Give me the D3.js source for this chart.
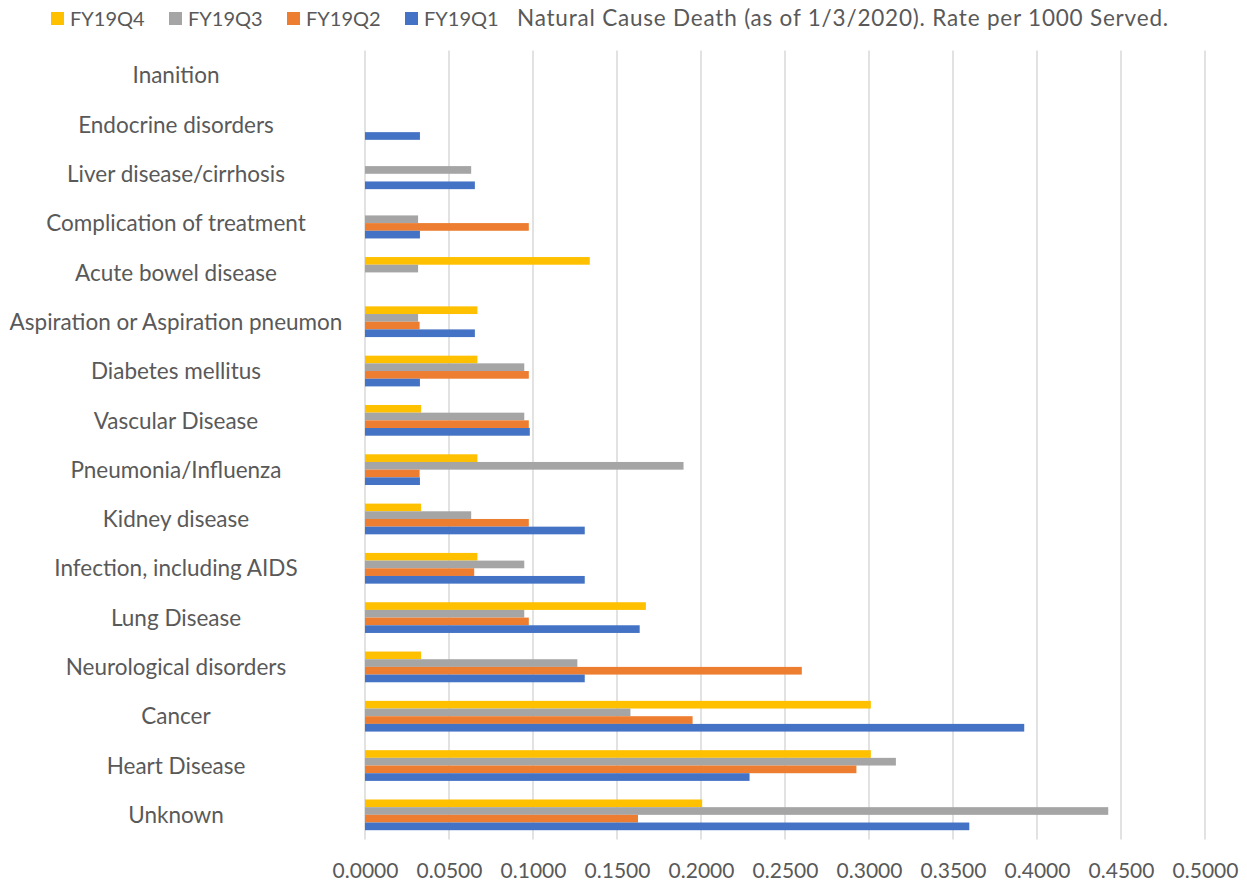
<!DOCTYPE html>
<html>
<head>
<meta charset="utf-8">
<script src="https://cdn.jsdelivr.net/npm/d3@7"></script>
<style>
  html, body { margin: 0; padding: 0; background: #ffffff; }
  svg { display: block; }
  text { font-family: Lato, "Open Sans", sans-serif; fill: #595959; }
</style>
</head>
<body>
<svg id="chart" width="1247" height="883"></svg>
<script>
// Causes of death, listed top to bottom
const categories = [
  "Inanition",
  "Endocrine disorders",
  "Liver disease/cirrhosis",
  "Complication of treatment",
  "Acute bowel disease",
  "Aspiration or Aspiration pneumon",
  "Diabetes mellitus",
  "Vascular Disease",
  "Pneumonia/Influenza",
  "Kidney disease",
  "Infection, including AIDS",
  "Lung Disease",
  "Neurological disorders",
  "Cancer",
  "Heart Disease",
  "Unknown"
];

// Quarters, in legend order (also top-to-bottom order inside each group)
const seriesNames = ["FY19Q4", "FY19Q3", "FY19Q2", "FY19Q1"];
const seriesColors = ["#FFC000", "#A5A5A5", "#ED7D31", "#4472C4"];

// Rate per 1000 served, same order as categories (0 = no deaths recorded)
const fy19q4 = [0, 0, 0, 0, 0.1338, 0.0669, 0.0669, 0.0334, 0.0669, 0.0334, 0.0669, 0.1672, 0.0334, 0.3011, 0.3011, 0.2007];
const fy19q3 = [0, 0, 0.0632, 0.0316, 0.0316, 0.0316, 0.0948, 0.0948, 0.1896, 0.0632, 0.0948, 0.0948, 0.1264, 0.1580, 0.3160, 0.4424];
const fy19q2 = [0, 0, 0, 0.0975, 0, 0.0325, 0.0975, 0.0975, 0.0325, 0.0975, 0.0650, 0.0975, 0.2600, 0.1950, 0.2925, 0.1625];
const fy19q1 = [0, 0.0327, 0.0654, 0.0327, 0, 0.0654, 0.0327, 0.0981, 0.0327, 0.1308, 0.1308, 0.1635, 0.1308, 0.3924, 0.2289, 0.3597];

const seriesValues = [fy19q4, fy19q3, fy19q2, fy19q1];

const tickValues = [0, 0.05, 0.1, 0.15, 0.2, 0.25, 0.3, 0.35, 0.4, 0.45, 0.5];
const title = "Natural Cause Death (as of 1/3/2020). Rate per 1000 Served.";

const svg = d3.select("#chart");

const plot = { left: 365, right: 1205, top: 50.5, bottom: 839.5 };

const x = d3.scaleLinear().domain([0, 0.5]).range([plot.left, plot.right]);
const y = d3.scaleBand().domain(categories).range([plot.top, plot.bottom])
  .paddingInner(0.377).paddingOuter(0.1885);
const ySub = d3.scaleBand().domain(seriesNames).range([0, y.bandwidth()]);

// Vertical gridlines
svg.append("g")
  .selectAll("line")
  .data(tickValues)
  .join("line")
  .attr("x1", d => x(d)).attr("x2", d => x(d))
  .attr("y1", plot.top).attr("y2", plot.bottom)
  .attr("stroke", "#d9d9d9")
  .attr("stroke-width", 1.5);

// Bars
const rows = [];
categories.forEach((c, i) => {
  seriesNames.forEach((s, j) => {
    rows.push({ cat: c, series: s, value: seriesValues[j][i], color: seriesColors[j] });
  });
});

svg.append("g")
  .selectAll("rect")
  .data(rows.filter(d => d.value > 0))
  .join("rect")
  .attr("x", x(0))
  .attr("y", d => y(d.cat) + ySub(d.series))
  .attr("width", d => x(d.value) - x(0))
  .attr("height", ySub.bandwidth())
  .attr("fill", d => d.color);

// Bottom value axis (labels only)
const xAxis = d3.axisBottom(x).tickValues(tickValues).tickFormat(d3.format(".4f")).tickSize(0).tickPadding(0);
const gx = svg.append("g").attr("transform", `translate(0, ${plot.bottom})`).call(xAxis);
gx.select(".domain").remove();
gx.selectAll("text")
  .attr("y", 33)
  .attr("dy", null)
  .attr("dominant-baseline", "middle")
  .style("font-family", "Lato, 'Open Sans', sans-serif")
  .style("font-size", "21px")
  .attr("fill", "#595959");

// Category labels
svg.append("g")
  .selectAll("text")
  .data(categories)
  .join("text")
  .attr("x", 176)
  .attr("y", d => y(d) + y.bandwidth() / 2 + 2.5)
  .attr("text-anchor", "middle")
  .attr("dominant-baseline", "middle")
  .style("font-size", "22.5px")
  .text(d => d);

// Legend
const legend = svg.append("g").attr("transform", "translate(51, 12)");
const item = legend.selectAll("g")
  .data(seriesNames)
  .join("g")
  .attr("transform", (d, i) => `translate(${i * 118}, 0)`);
item.append("rect")
  .attr("width", 13).attr("height", 13)
  .attr("fill", (d, i) => seriesColors[i]);
item.append("text")
  .attr("x", 19).attr("y", 8.5)
  .attr("dominant-baseline", "middle")
  .style("font-size", "20px")
  .text(d => d);

// Title
svg.append("text")
  .attr("x", 517).attr("y", 20.5)
  .attr("dominant-baseline", "middle")
  .style("font-size", "22.5px")
  .style("letter-spacing", "0.8px")
  .text(title);
</script>
</body>
</html>
